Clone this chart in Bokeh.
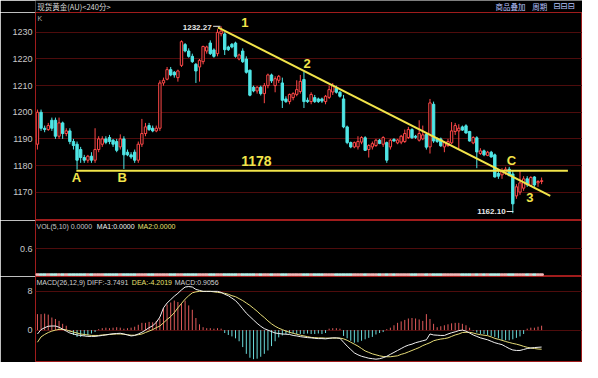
from bokeh.plotting import figure
from bokeh.layouts import column
from bokeh.models import ColumnDataSource, Range1d, FixedTicker
from bokeh.core.properties import value
from bokeh.embed import file_html
from bokeh.resources import INLINE

# ---------------- data ----------------
opens = [1188, 1200, 1194, 1193.5, 1197, 1197, 1191, 1196, 1192, 1193,
         1189, 1188, 1186, 1183, 1182, 1183.5, 1182, 1186, 1188, 1190,
         1190.5, 1189.5, 1189, 1187, 1190, 1185, 1184, 1185, 1182, 1188,
         1192, 1195, 1194, 1193, 1194, 1211, 1212.4, 1216, 1215, 1213,
         1217.6, 1225.4, 1223, 1221, 1218, 1217, 1219, 1223, 1226, 1223.4,
         1222, 1229.5, 1229.4, 1224.5, 1225.5, 1226, 1220, 1223, 1220, 1215.8,
         1209.4, 1208, 1209.4, 1207, 1210, 1214, 1210, 1212, 1211, 1205,
         1204, 1205.5, 1206.7, 1207.8, 1212.3, 1204.5, 1204, 1205.5, 1205, 1205,
         1204, 1205.6, 1207.6, 1209, 1207.5, 1205, 1194.5, 1188.6, 1187, 1187,
         1188.8, 1190.4, 1186, 1187, 1187.5, 1189.5, 1188, 1188.6, 1187, 1189.8,
         1188.5, 1188.8, 1189, 1190.5, 1193.5, 1191, 1189.5, 1190, 1191.7, 1187,
         1203, 1190, 1190, 1187, 1187.5, 1188.5, 1192.8, 1193, 1194.5, 1194.9,
         1192.8, 1188.5, 1190.4, 1184.5, 1185.5, 1183.8, 1185, 1184, 1177, 1176.5,
         1177.5, 1178.6, 1176.8, 1168.6, 1170, 1171.5, 1175, 1172.5, 1175.7, 1173.5,
         1174]
highs = [1201, 1201, 1195, 1196, 1198, 1198, 1198, 1196.5, 1194, 1194,
         1190, 1189, 1187, 1184, 1184, 1185, 1194, 1191, 1191, 1191,
         1191.5, 1190, 1190, 1191.7, 1191, 1186, 1185, 1186, 1189, 1197.5,
         1196, 1196, 1195, 1195, 1212, 1213, 1217, 1217, 1215.5, 1216,
         1227, 1226, 1224, 1222, 1218.5, 1220, 1225, 1225, 1227, 1224,
         1231.2, 1232.27, 1230, 1225, 1226, 1226.5, 1222, 1224, 1221, 1216,
         1210, 1209.8, 1210, 1211, 1214.5, 1214.5, 1213.5, 1214, 1213, 1206,
         1207, 1207.5, 1212, 1214, 1215.2, 1205.5, 1207.5, 1206.5, 1205.5, 1205.5,
         1206.5, 1210, 1211, 1210, 1208, 1206.5, 1195, 1189, 1189, 1191,
         1191, 1191, 1188, 1189, 1190, 1190, 1191, 1189, 1190, 1190.3,
         1190, 1191.5, 1193.5, 1194.5, 1194, 1191.5, 1197, 1195, 1192, 1205,
         1204, 1190.5, 1190.5, 1189, 1190, 1196.3, 1196, 1195.5, 1195, 1195.5,
         1193, 1191, 1191, 1186.5, 1186, 1185.5, 1185.5, 1184.5, 1178, 1179,
         1179.5, 1179.5, 1178, 1173, 1178, 1176, 1176, 1176, 1176, 1174.5,
         1175.5]
lows = [1186, 1193, 1192.5, 1193, 1193, 1190, 1190, 1190, 1191, 1188,
        1186, 1178.5, 1181, 1181, 1181, 1181, 1181, 1185, 1187, 1188,
        1188, 1187, 1185, 1186, 1178.7, 1183.5, 1182.5, 1181, 1181, 1187,
        1191, 1193, 1192.5, 1192.5, 1193, 1210, 1212, 1213.5, 1213, 1211.5,
        1217, 1222.5, 1220.5, 1218.5, 1211, 1211.5, 1218, 1222, 1221.5, 1220.5,
        1221, 1228.5, 1221.5, 1223, 1224, 1220.5, 1219.5, 1218.5, 1214.5, 1206,
        1207.5, 1207, 1206.3, 1203.4, 1209, 1211, 1207.5, 1211, 1201.6, 1203.5,
        1203, 1204.5, 1206, 1207, 1201.6, 1203.5, 1203, 1203.5, 1203.5, 1203.5,
        1203, 1205, 1206.5, 1207, 1205.5, 1194, 1188, 1186.5, 1186.5, 1186,
        1188, 1185.5, 1183, 1186, 1187, 1188, 1187, 1181, 1186, 1189,
        1188, 1188, 1188.5, 1190, 1190, 1190, 1189, 1189.5, 1186, 1184.5,
        1188.5, 1188.5, 1187, 1185, 1187, 1188, 1191.5, 1186, 1193, 1192,
        1189, 1188, 1179, 1184, 1183.5, 1183.5, 1183, 1175.5, 1175, 1175,
        1176.5, 1176, 1162.1, 1167.5, 1169, 1170.5, 1172, 1172, 1172, 1172,
        1173]
closes = [1200, 1194, 1193.5, 1195, 1194, 1191, 1196, 1192, 1193, 1189,
          1187.5, 1182, 1183, 1182, 1183.5, 1182, 1186, 1190, 1190, 1188.7,
          1189, 1188, 1185.7, 1190, 1184, 1184, 1183.2, 1182, 1188, 1192,
          1194.5, 1193.5, 1193, 1194, 1211, 1212, 1216, 1214, 1214, 1215.5,
          1226.5, 1223, 1221, 1219, 1215.5, 1219.5, 1224.7, 1224.5, 1222, 1221,
          1230, 1230.5, 1223.5, 1223.5, 1224.5, 1221, 1221.5, 1219, 1215, 1206.4,
          1208, 1209.4, 1207, 1210, 1214, 1211.8, 1212.6, 1213.5, 1204.5, 1204,
          1206.7, 1207, 1208.5, 1211.6, 1204, 1204, 1206.7, 1204, 1204, 1204.2,
          1206, 1208.5, 1210, 1207.5, 1206, 1194.5, 1188.6, 1187, 1188.6, 1189,
          1190.5, 1185.7, 1187.5, 1188.2, 1189.5, 1188.3, 1190.5, 1182, 1189.5, 1189.2,
          1189.6, 1191, 1192, 1193.5, 1190.4, 1190.6, 1192, 1191.5, 1186.9, 1203.5,
          1189.2, 1189, 1187.4, 1188.6, 1189, 1193, 1195, 1194, 1193.3, 1192.2,
          1189.2, 1190.5, 1185.1, 1185.5, 1184, 1185, 1183.2, 1175.7, 1176, 1177.8,
          1178.6, 1176.2, 1165.6, 1172, 1173.5, 1175, 1172.8, 1175.5, 1172.7, 1174,
          1174.3]
volume = [0.0] * len(closes)   # VOL 0.0000 for every bar
diff = [-0.8, 0.1, 0.5, 0.8, 0.85, 0.85, 0.6, 0.2, -0.2, -0.6,
        -0.8, -1.0, -1.1, -1.2, -1.3, -1.3, -1.3, -1.2, -1.1, -1.0,
        -0.85, -0.75, -0.7, -0.65, -0.8, -1.0, -1.2, -1.1, -0.8, -0.45,
        0.0, 0.5, 0.9, 1.6, 2.7, 4.6, 5.6, 6.3, 7.0, 7.6,
        8.3, 8.9, 9.0, 8.9, 8.4, 8.2, 8.0, 8.0, 8.0, 8.0,
        8.0, 7.8, 7.4, 7.1, 6.6, 6.1, 5.3, 4.4, 3.5, 2.8,
        2.1, 1.4, 0.8, 0.3, 0.0, -0.3, -0.6, -0.7, -0.8, -0.85,
        -0.9, -1.1, -1.2, -1.35, -1.45, -1.55, -1.6, -1.7, -1.75, -1.75,
        -1.8, -1.7, -1.6, -1.6, -1.7, -2.5, -3.3, -4.0, -4.7, -5.1,
        -5.4, -5.6, -5.8, -5.9, -6.0, -5.9, -5.7, -5.4, -5.0, -4.6,
        -4.2, -3.8, -3.4, -3.1, -2.9, -2.6, -2.4, -2.2, -2.0, -0.8,
        -1.0, -1.05, -1.1, -1.1, -0.8, -0.55, -0.35, -0.1, 0.0, -0.2,
        -0.6, -1.0, -1.3, -1.6, -1.8, -2.0, -2.3, -2.6, -2.8, -3.0,
        -3.4, -3.8, -4.1, -4.2, -4.2, -4.0, -3.8, -3.7, -3.6, -3.55,
        -3.5]
dea = [-2.5, -1.4, -0.9, -0.5, -0.2, 0.0, 0.15, 0.15, 0.05, -0.2,
       -0.4, -0.6, -0.8, -0.9, -1.0, -1.1, -1.1, -1.1, -1.0, -0.95,
       -0.9, -0.85, -0.8, -0.8, -0.85, -0.95, -1.05, -1.05, -0.95, -0.8,
       -0.5, -0.2, 0.1, 0.5, 0.85, 1.5, 2.2, 2.8, 3.6, 4.6,
       5.5, 6.4, 7.1, 7.7, 7.9, 8.0, 8.0, 8.0, 8.0, 7.9,
       7.8, 7.7, 7.6, 7.4, 7.1, 6.9, 6.5, 6.1, 5.6, 5.1,
       4.5, 3.9, 3.2, 2.6, 1.9, 1.3, 0.8, 0.4, 0.1, -0.2,
       -0.45, -0.65, -0.85, -1.05, -1.2, -1.35, -1.5, -1.55, -1.6, -1.6,
       -1.65, -1.65, -1.65, -1.65, -1.65, -1.8, -2.1, -2.5, -2.9, -3.3,
       -3.8, -4.3, -4.6, -4.9, -5.1, -5.3, -5.45, -5.5, -5.5, -5.4,
       -5.3, -5.0, -4.8, -4.5, -4.2, -3.9, -3.6, -3.2, -2.9, -2.6,
       -2.2, -2.0, -1.85, -1.75, -1.6, -1.3, -1.0, -0.8, -0.5, -0.45,
       -0.45, -0.6, -0.8, -0.95, -1.05, -1.15, -1.4, -1.7, -1.9, -2.1,
       -2.35, -2.55, -2.75, -2.9, -3.1, -3.35, -3.55, -3.7, -3.8, -3.9,
       -3.95]
macd_hist = [3.3, 3.3, 3.4, 3.2, 2.6, 2.3, 1.9, 1.3, 0.9, -0.3,
             -1.0, -1.4, -1.4, -1.2, -1.1, -0.7, -0.4, 0.2, 0.4, 0.5,
             0.4, 0.5, 0.6, 0.5, 0.3, 0.4, 0.5, 0.7, 1.1, 1.5,
             1.5, 1.7, 1.6, 1.9, 2.4, 4.5, 5.3, 5.7, 6.1, 5.8,
             5.6, 6.1, 5.1, 4.2, 2.5, 1.2, 0.6, 0.4, 0.4, 0.3,
             0.4, 0.3, -0.6, -1.0, -1.3, -1.7, -2.3, -3.5, -4.9, -5.7,
             -6.0, -5.9, -5.5, -4.9, -4.2, -3.3, -2.3, -1.5, -1.1, -0.8,
             -0.7, -0.7, -0.8, -0.8, -0.8, -0.7, -0.8, -0.8, -0.7, -0.8,
             -0.6, 0.3, 0.4, 0.4, 0.3, -1.2, -1.7, -2.2, -2.6, -2.5,
             -2.2, -1.9, -1.6, -1.4, -0.9, -0.6, -0.4, 0.2, 0.5, 1.0,
             1.5, 1.8, 2.1, 2.4, 2.5, 2.4, 2.2, 1.9, 3.3, 2.3,
             1.3, 0.6, 0.8, 1.0, 1.2, 1.4, 1.5, 1.5, 1.3, 1.0,
             0.5, -0.1, -0.5, -0.8, -0.8, -1.0, -1.2, -1.4, -1.7, -2.0,
             -2.1, -2.1, -1.9, -1.6, -1.3, -0.8, 0.3, 0.5, 0.5, 0.7,
             0.91]

price_ticks = [1170, 1180, 1190, 1200, 1210, 1220, 1230]
vol_ticks = [0.6]
macd_ticks = [0, 8]
support_level = 1178
high_mark = 1232.27
low_mark = 1162.10
trend_x = [50.1, 142.4]
trend_y = [1231.9, 1168.6]

# ---------------- styling ----------------
BORDER = "#a01c1c"
GRID = "#4e0c0c"
UP = "#ff4848"
DN = "#4fe6e6"
YEL = "#f2e44a"
AXT = "#c8c8c8"
FONT = "Liberation Sans"
W = 582
SC = W / 598.0   # horizontal scale of the reference pixels
HEAD_H = 12

# helpers: reference-pixel position -> data coordinate (annotation placement)
def xi(px):
    return (px - 38) / 3.7

def yp(py):
    return 1230 - (py - 30) / 2.817

def yv(py):
    return (286 - py) / 45.0

def ym(py):
    return (344.3 - py) / 5.04

n = len(closes)
idx = list(range(n))
xr = Range1d(xi(36), xi(598))

def make_fig(h, yr, ticks):
    p = figure(width=W, height=h, x_range=xr, y_range=Range1d(*yr),
               output_backend="svg", toolbar_location=None, x_axis_location=None,
               min_border_left=35, min_border_right=0, min_border_top=0,
               min_border_bottom=0, background_fill_color="black",
               border_fill_color="black", outline_line_color=BORDER,
               outline_line_width=1)
    ax = p.yaxis[0]
    ax.ticker = FixedTicker(ticks=ticks)
    ax.major_label_text_color = AXT
    ax.major_label_text_font_size = "9px"
    ax.major_label_text_font = FONT
    ax.major_tick_line_color = None
    ax.minor_tick_line_color = None
    ax.major_tick_out = 0
    ax.major_tick_in = 0
    ax.axis_line_color = None
    ax.major_label_standoff = 3
    p.ygrid.ticker = FixedTicker(ticks=ticks)
    p.ygrid.grid_line_color = GRID
    p.ygrid.grid_line_width = 1
    p.xgrid.visible = False
    return p

# ---------------- header strip ----------------
p0 = figure(width=W, height=HEAD_H, x_range=Range1d(0, W), y_range=Range1d(0, HEAD_H),
            output_backend="svg", toolbar_location=None, x_axis_location=None,
            y_axis_location=None, min_border=0, background_fill_color="black",
            border_fill_color="black", outline_line_color=None)
p0.grid.visible = False
head = ColumnDataSource(dict(
    x=[2 * SC, 503 * SC, 543 * SC],
    t=["现货黄金(AU)<240分>", "商品叠加", "周期"],
    c=["#d8d8d8", "#b8c4ff", "#b8c4ff"],
))
p0.text(x="x", y=HEAD_H / 2 + 0.5, text="t", text_color="c", source=head,
        text_font=value("Noto Sans CJK SC"), text_font_size="7.5px",
        text_align="left", text_baseline="middle")
p0.text(x=[566 * SC], y=[HEAD_H / 2 + 0.5], text=["⊟⊟⊟"], text_color="#b8c4ff",
        text_font=value("DejaVu Sans"), text_font_size="8.5px",
        text_align="left", text_baseline="middle")

# ---------------- price panel ----------------
p1 = make_fig(362 - HEAD_H - 56 - 86, (yp(229), yp(9)), price_ticks)

up = [c >= o for o, c in zip(opens, closes)]
src = ColumnDataSource(dict(
    x=idx, h=highs, l=lows,
    top=[max(o, c) for o, c in zip(opens, closes)],
    bottom=[min(o, c) for o, c in zip(opens, closes)],
    color=[UP if u else DN for u in up],
    fill=["black" if u else DN for u in up],
))
p1.segment(x0="x", y0="h", x1="x", y1="l", line_color="color", line_width=1, source=src)
p1.vbar(x="x", width=0.66, top="top", bottom="bottom", fill_color="fill",
        line_color="color", line_width=1, source=src)

# support and trend lines
p1.line([xi(78), xi(583)], [support_level, support_level], line_color=YEL, line_width=2)
p1.line(trend_x, trend_y, line_color=YEL, line_width=2)

# yellow annotation letters
ann = ColumnDataSource(dict(
    x=[xi(251), xi(315), xi(78), xi(125), xi(525), xi(544)],
    y=[yp(20), yp(63), yp(184), yp(184), yp(166), yp(205)],
    t=["1", "2", "A", "B", "C", "3"],
))
p1.text(x="x", y="y", text="t", source=ann, text_color=YEL, text_font=value(FONT),
        text_font_style="bold", text_font_size="13px", text_align="center",
        text_baseline="middle")
p1.text(x=[xi(263)], y=[yp(166)], text=[str(support_level)], text_color=YEL,
        text_font=value(FONT), text_font_style="bold", text_font_size="14px",
        text_align="center", text_baseline="middle")

# high / low markers
p1.text(x=[xi(217)], y=[yp(24.5)], text=["%.2f" % high_mark], text_color="#e8e8e8",
        text_font=value(FONT), text_font_style="bold", text_font_size="8px",
        text_align="right", text_baseline="middle")
p1.line([xi(218.5), xi(226)], [high_mark, high_mark], line_color="#e8e8e8", line_width=1)
p1.text(x=[xi(519)], y=[yp(219.5)], text=["%.2f" % low_mark], text_color="#e8e8e8",
        text_font=value(FONT), text_font_style="bold", text_font_size="8px",
        text_align="right", text_baseline="middle")
p1.line([xi(520), xi(527)], [yp(219.5), yp(219.5)], line_color="#e8e8e8", line_width=1)

p1.text(x=[xi(38)], y=[yp(15)], text=["K"], text_color="#b0b0b0",
        text_font=value(FONT), text_font_size="7px", text_align="left",
        text_baseline="middle")

# ---------------- volume panel ----------------
p2 = make_fig(56, (yv(288), yv(230)), vol_ticks)
p2.rect(x=idx, y=volume, width=0.95, height=1.5, height_units="screen",
        color=["#f0b8b8" if u else "#b8f0e8" for u in up])
vt = ColumnDataSource(dict(
    x=[xi(37), xi(99), xi(141)], y=[yv(236)] * 3,
    t=["VOL(5,10) 0.0000", "MA1:0.0000", "MA2:0.0000"],
    c=["#c8c8c8", "#f0f0f0", "#e8e070"],
))
p2.text(x="x", y="y", text="t", text_color="c", source=vt, text_font=value(FONT),
        text_font_size="7px", text_align="left", text_baseline="middle")

# ---------------- MACD panel ----------------
p3 = make_fig(86, (ym(378), ym(288.5)), macd_ticks)
p3.segment(x0=idx, y0=[0] * n, x1=idx, y1=macd_hist,
           line_color=["#e05a5a" if v >= 0 else "#6adada" for v in macd_hist],
           line_width=1)
p3.line(idx, dea, line_color="#e6dc78", line_width=1)
p3.line(idx, diff, line_color="#f0f0f0", line_width=1)
mt = ColumnDataSource(dict(
    x=[xi(37), xi(135), xi(179)], y=[ym(294.3)] * 3,
    t=["MACD(26,12,9) DIFF:-3.7491", "DEA:-4.2019", "MACD:0.9056"],
    c=["#d0d0d0", "#e8e070", "#d0d0d0"],
))
p3.text(x="x", y="y", text="t", text_color="c", source=mt, text_font=value(FONT),
        text_font_size="7px", text_align="left", text_baseline="middle")

layout = column(p0, p1, p2, p3, spacing=0)
open("out.html", "w").write(file_html(layout, INLINE))
